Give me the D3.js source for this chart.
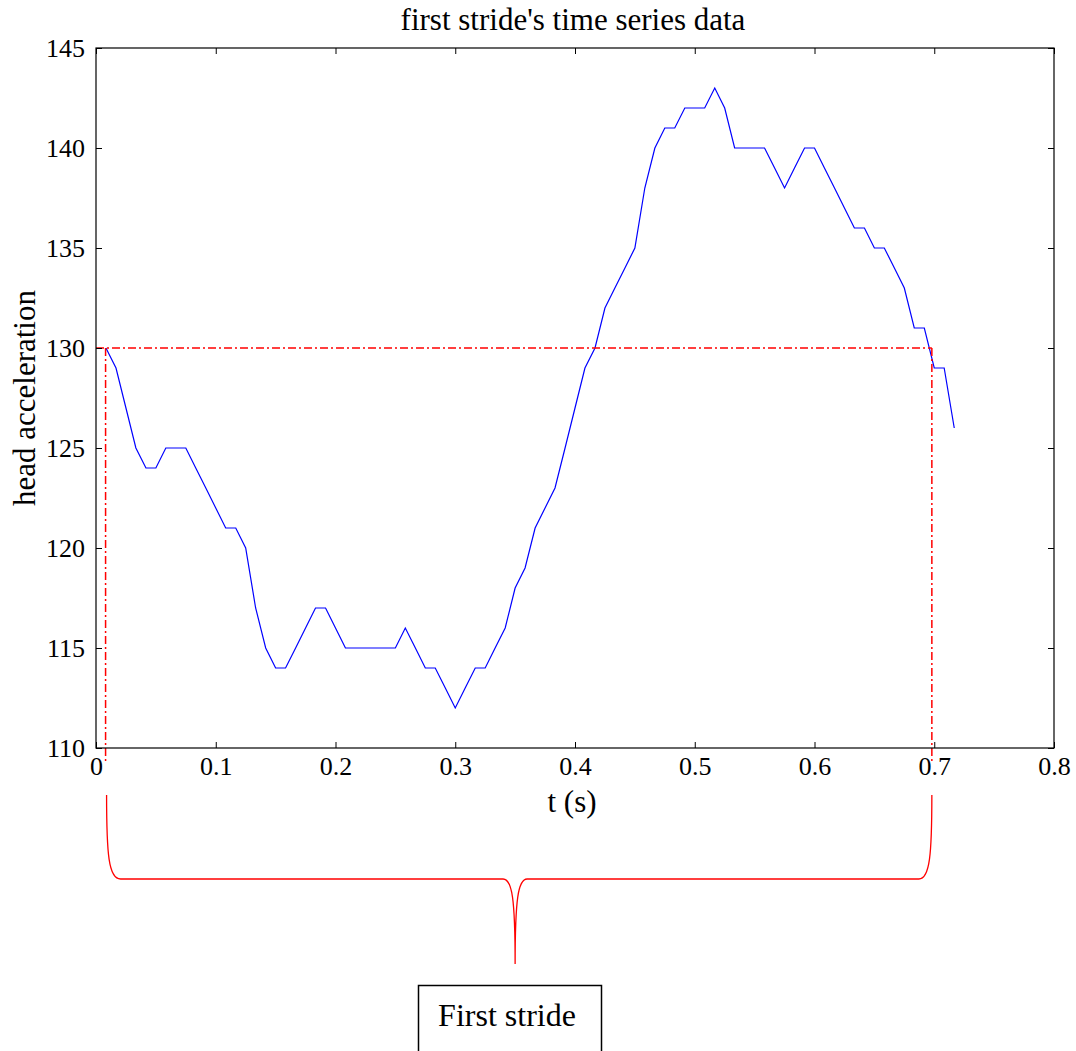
<!DOCTYPE html>
<html lang="en">
<head>
    <meta charset="UTF-8">
    <title>first stride's time series data</title>
    <script src="https://cdnjs.cloudflare.com/ajax/libs/d3/7.8.5/d3.min.js"></script>
    <style>
        body { margin: 0; background: #fff; }
        svg { display: block; }
        svg text { font-family: "Liberation Serif", "Times New Roman", serif; fill: #000; }
    </style>
</head>
<body>
    <div id="chart"></div>
    <script>
        // sample times (s) and head acceleration values
        const times = [0.0083, 0.0167, 0.025, 0.0333, 0.0417, 0.05, 0.0583, 0.0667, 0.075, 0.0833,
            0.0917, 0.1, 0.1083, 0.1167, 0.125, 0.1333, 0.1417, 0.15, 0.1583, 0.1667,
            0.175, 0.1833, 0.1917, 0.2, 0.2083, 0.2167, 0.225, 0.2333, 0.2417, 0.25,
            0.2583, 0.2667, 0.275, 0.2833, 0.2917, 0.3, 0.3083, 0.3167, 0.325, 0.3333,
            0.3417, 0.35, 0.3583, 0.3667, 0.375, 0.3833, 0.3917, 0.4, 0.4083, 0.4167,
            0.425, 0.4333, 0.4417, 0.45, 0.4583, 0.4667, 0.475, 0.4833, 0.4917, 0.5,
            0.5083, 0.5167, 0.525, 0.5333, 0.5417, 0.55, 0.5583, 0.5667, 0.575, 0.5833,
            0.5917, 0.6, 0.6083, 0.6167, 0.625, 0.6333, 0.6417, 0.65, 0.6583, 0.6667,
            0.675, 0.6833, 0.6917, 0.7, 0.7083, 0.7167];
        const accel = [130, 129, 127, 125, 124, 124, 125, 125, 125, 124,
            123, 122, 121, 121, 120, 117, 115, 114, 114, 115,
            116, 117, 117, 116, 115, 115, 115, 115, 115, 115,
            116, 115, 114, 114, 113, 112, 113, 114, 114, 115,
            116, 118, 119, 121, 122, 123, 125, 127, 129, 130,
            132, 133, 134, 135, 138, 140, 141, 141, 142, 142,
            142, 143, 142, 140, 140, 140, 140, 139, 138, 139,
            140, 140, 139, 138, 137, 136, 136, 135, 135, 134,
            133, 131, 131, 129, 129, 126];

        const xTicks = [0, 0.1, 0.2, 0.3, 0.4, 0.5, 0.6, 0.7, 0.8];
        const yTicks = [110, 115, 120, 125, 130, 135, 140, 145];

        // stride markers (dash-dot box) and brace label
        const strideStart = 0.008;
        const strideEnd = 0.698;
        const strideLevel = 130;
        const braceTip = 0.35;
        const labelText = "First stride";

        const W = 1076, H = 1051;
        const mLeft = 96, mRight = 1054, mTop = 48, mBottom = 748;

        const svg = d3.select("#chart").append("svg")
            .attr("width", W)
            .attr("height", H);

        const x = d3.scaleLinear().domain([0, 0.8]).range([mLeft, mRight]);
        const y = d3.scaleLinear().domain([110, 145]).range([mBottom, mTop]);

        // data line
        const line = d3.line()
            .x((d, i) => x(times[i]))
            .y(d => y(d));

        svg.append("path")
            .datum(accel)
            .attr("fill", "none")
            .attr("stroke", "#0000ff")
            .attr("stroke-width", 1.2)
            .attr("d", line);

        // red dash-dot stride lines
        const dash = "8,3,2,3";
        svg.append("line")
            .attr("x1", x(0)).attr("x2", x(strideEnd))
            .attr("y1", y(strideLevel)).attr("y2", y(strideLevel))
            .attr("stroke", "#ff0000").attr("stroke-width", 1.5)
            .attr("stroke-dasharray", dash);
        [strideStart, strideEnd].forEach(t => {
            svg.append("line")
                .attr("x1", x(t)).attr("x2", x(t))
                .attr("y1", y(strideLevel)).attr("y2", y(109.3))
                .attr("stroke", "#ff0000").attr("stroke-width", 1.5)
                .attr("stroke-dasharray", dash);
        });

        // axes box
        const axisFont = g => g.selectAll("text")
            .style("font-size", "26px");

        svg.append("g")
            .attr("transform", `translate(0,${mBottom})`)
            .call(d3.axisBottom(x).tickValues(xTicks).tickFormat(d3.format("~g"))
                .tickSizeInner(-6).tickSizeOuter(0).tickPadding(9))
            .call(axisFont)
            .call(g => g.select(".domain").remove());

        svg.append("g")
            .attr("transform", `translate(${mLeft},0)`)
            .call(d3.axisLeft(y).tickValues(yTicks)
                .tickSizeInner(-6).tickSizeOuter(0).tickPadding(11))
            .call(axisFont)
            .call(g => g.select(".domain").remove());

        svg.append("g")
            .attr("transform", `translate(0,${mTop})`)
            .call(d3.axisTop(x).tickValues(xTicks).tickFormat("")
                .tickSizeInner(-6).tickSizeOuter(0))
            .call(g => g.select(".domain").remove());

        svg.append("g")
            .attr("transform", `translate(${mRight},0)`)
            .call(d3.axisRight(y).tickValues(yTicks).tickFormat("")
                .tickSizeInner(-6).tickSizeOuter(0))
            .call(g => g.select(".domain").remove());

        svg.append("rect")
            .attr("x", mLeft).attr("y", mTop)
            .attr("width", mRight - mLeft).attr("height", mBottom - mTop)
            .attr("fill", "none")
            .attr("stroke", "#000")
            .attr("stroke-width", 1.2);

        // titles
        svg.append("text")
            .attr("x", 573)
            .attr("y", 30)
            .attr("text-anchor", "middle")
            .style("font-size", "31px")
            .text("first stride's time series data");

        svg.append("text")
            .attr("x", 572)
            .attr("y", 812)
            .attr("text-anchor", "middle")
            .style("font-size", "31px")
            .text("t (s)");

        svg.append("text")
            .attr("transform", `translate(35,${(mTop + mBottom) / 2}) rotate(-90)`)
            .attr("text-anchor", "middle")
            .style("font-size", "31px")
            .text("head acceleration");

        // curly brace under the axis
        const bx0 = x(strideStart) + 1, bx1 = x(strideEnd), bxm = x(braceTip);
        const byTop = 795, byMid = 879, byTip = 964;
        const brace = d3.path();
        brace.moveTo(bx0, byTop);
        brace.bezierCurveTo(bx0, byMid - 25, bx0 + 2, byMid, bx0 + 14, byMid);
        brace.lineTo(bxm - 12, byMid);
        brace.bezierCurveTo(bxm - 3, byMid, bxm, byMid + 20, bxm, byTip);
        brace.bezierCurveTo(bxm, byMid + 20, bxm + 3, byMid, bxm + 12, byMid);
        brace.lineTo(bx1 - 13, byMid);
        brace.bezierCurveTo(bx1 - 2, byMid, bx1, byMid - 25, bx1, byTop);

        svg.append("path")
            .attr("d", brace.toString())
            .attr("fill", "none")
            .attr("stroke", "#ff0000")
            .attr("stroke-width", 1.3);

        // label box
        svg.append("rect")
            .attr("x", 418.5).attr("y", 985.5)
            .attr("width", 183).attr("height", 80)
            .attr("fill", "#fff")
            .attr("stroke", "#000")
            .attr("stroke-width", 1.5);

        svg.append("text")
            .attr("x", 507)
            .attr("y", 1026)
            .attr("text-anchor", "middle")
            .style("font-size", "32px")
            .text(labelText);
    </script>
</body>
</html>
